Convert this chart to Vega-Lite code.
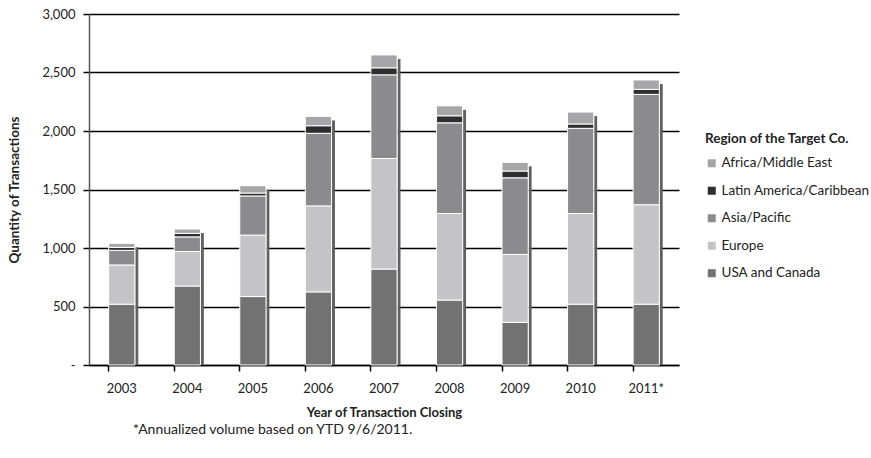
{
  "$schema": "https://vega.github.io/schema/vega-lite/v6.json",
  "width": 590,
  "height": 351,
  "autosize": {"type": "none"},
  "padding": {"left": 89, "top": 14, "right": 192, "bottom": 93},
  "background": "white",
  "config": {
    "font": "Lato",
    "view": {"stroke": null}
  },
  "title": {
    "text": "*Annualized volume based on YTD 9/6/2011.",
    "orient": "bottom",
    "anchor": "start",
    "frame": "group",
    "dx": 44,
    "offset": 4,
    "fontSize": 14,
    "fontWeight": "normal",
    "font": "Lato",
    "color": "#222"
  },
  "data": {
    "values": [
      {"year": "2003", "region": "USA and Canada", "value": 520},
      {"year": "2003", "region": "Europe", "value": 335},
      {"year": "2003", "region": "Asia/Pacific", "value": 125},
      {"year": "2003", "region": "Latin America/Caribbean", "value": 25},
      {"year": "2003", "region": "Africa/Middle East", "value": 35},
      {"year": "2004", "region": "USA and Canada", "value": 675},
      {"year": "2004", "region": "Europe", "value": 295},
      {"year": "2004", "region": "Asia/Pacific", "value": 125},
      {"year": "2004", "region": "Latin America/Caribbean", "value": 30},
      {"year": "2004", "region": "Africa/Middle East", "value": 37},
      {"year": "2005", "region": "USA and Canada", "value": 585},
      {"year": "2005", "region": "Europe", "value": 525},
      {"year": "2005", "region": "Asia/Pacific", "value": 335},
      {"year": "2005", "region": "Latin America/Caribbean", "value": 25},
      {"year": "2005", "region": "Africa/Middle East", "value": 62},
      {"year": "2006", "region": "USA and Canada", "value": 625},
      {"year": "2006", "region": "Europe", "value": 735},
      {"year": "2006", "region": "Asia/Pacific", "value": 620},
      {"year": "2006", "region": "Latin America/Caribbean", "value": 65},
      {"year": "2006", "region": "Africa/Middle East", "value": 80},
      {"year": "2007", "region": "USA and Canada", "value": 820},
      {"year": "2007", "region": "Europe", "value": 945},
      {"year": "2007", "region": "Asia/Pacific", "value": 715},
      {"year": "2007", "region": "Latin America/Caribbean", "value": 60},
      {"year": "2007", "region": "Africa/Middle East", "value": 110},
      {"year": "2008", "region": "USA and Canada", "value": 555},
      {"year": "2008", "region": "Europe", "value": 740},
      {"year": "2008", "region": "Asia/Pacific", "value": 775},
      {"year": "2008", "region": "Latin America/Caribbean", "value": 60},
      {"year": "2008", "region": "Africa/Middle East", "value": 85},
      {"year": "2009", "region": "USA and Canada", "value": 365},
      {"year": "2009", "region": "Europe", "value": 580},
      {"year": "2009", "region": "Asia/Pacific", "value": 655},
      {"year": "2009", "region": "Latin America/Caribbean", "value": 58},
      {"year": "2009", "region": "Africa/Middle East", "value": 74},
      {"year": "2010", "region": "USA and Canada", "value": 520},
      {"year": "2010", "region": "Europe", "value": 775},
      {"year": "2010", "region": "Asia/Pacific", "value": 728},
      {"year": "2010", "region": "Latin America/Caribbean", "value": 37},
      {"year": "2010", "region": "Africa/Middle East", "value": 102},
      {"year": "2011*", "region": "USA and Canada", "value": 520},
      {"year": "2011*", "region": "Europe", "value": 850},
      {"year": "2011*", "region": "Asia/Pacific", "value": 943},
      {"year": "2011*", "region": "Latin America/Caribbean", "value": 43},
      {"year": "2011*", "region": "Africa/Middle East", "value": 80}
    ]
  },
  "layer": [
    {
      "mark": {"type": "rule", "strokeWidth": 3, "color": "#606060", "xOffset": 15, "yOffset": 4},
      "encoding": {
        "x": {
          "field": "year", "type": "nominal", "sort": null,
          "scale": {"paddingInner": 0.6, "paddingOuter": 0.3},
          "axis": {
            "orient": "bottom", "bandPosition": 0, "labels": false, "domain": false,
            "title": null, "ticks": true, "tickSize": 6, "tickColor": "#000", "tickWidth": 1.5, "grid": false
          }
        },
        "y": {"aggregate": "sum", "field": "value", "type": "quantitative"},
        "y2": {"datum": 0}
      }
    },
    {
      "transform": [
        {"calculate": "indexof(['USA and Canada', 'Europe', 'Asia/Pacific', 'Latin America/Caribbean', 'Africa/Middle East'], datum.region)", "as": "stackOrder"}
      ],
      "mark": {"type": "bar", "stroke": "white", "strokeWidth": 1},
      "encoding": {
        "x": {
          "field": "year", "type": "nominal", "sort": null,
          "axis": {
            "orient": "bottom", "ticks": false, "labelAngle": 0, "labelPadding": 17,
            "labelFontSize": 13, "labelColor": "#222", "domainColor": "#000", "domainWidth": 1.5,
            "title": "Year of Transaction Closing", "titleFontSize": 13, "titleFontWeight": "bold",
            "titleColor": "#222", "titlePadding": 11, "grid": false
          }
        },
        "y": {
          "aggregate": "sum", "field": "value", "type": "quantitative",
          "scale": {"domain": [0, 3000]},
          "axis": {
            "values": [0, 500, 1000, 1500, 2000, 2500, 3000],
            "labelExpr": "datum.value == 0 ? '-' : format(datum.value, ',')",
            "labelFontSize": 13, "labelColor": "#222", "labelPadding": 8,
            "tickSize": 6, "tickColor": "#000", "tickWidth": 1.5,
            "domainColor": "#555", "domainWidth": 1.5,
            "grid": true, "gridColor": "#000", "gridWidth": 1.5,
            "title": "Quantity of Transactions", "titleFontSize": 13.5, "titleFontWeight": "bold",
            "titleColor": "#222", "titlePadding": 20
          }
        },
        "order": {"field": "stackOrder", "type": "quantitative", "sort": "ascending"},
        "color": {
          "field": "region", "type": "nominal",
          "scale": {
            "domain": ["Africa/Middle East", "Latin America/Caribbean", "Asia/Pacific", "Europe", "USA and Canada"],
            "range": ["#a6a6a8", "#2e2e2e", "#8b8b8d", "#c4c4c6", "#727272"]
          },
          "legend": {
            "orient": "none", "legendX": 616, "legendY": 118,
            "title": "Region of the Target Co.", "titleFontSize": 13.5, "titleFontWeight": "bold",
            "titleColor": "#222", "titlePadding": 11,
            "labelFontSize": 13.5, "labelColor": "#222", "labelOffset": 3,
            "symbolType": "square", "symbolSize": 64, "symbolStrokeWidth": 0, "rowPadding": 12.5
          }
        }
      }
    }
  ],
  "resolve": {"axis": {"x": "independent"}}
}
